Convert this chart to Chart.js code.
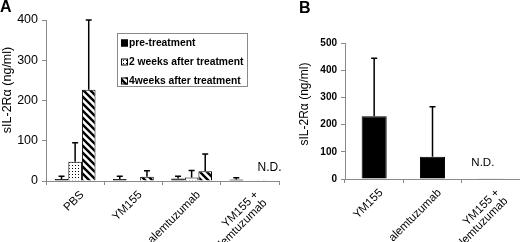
<!DOCTYPE html>
<html>
<head>
<meta charset="utf-8">
<script src="https://cdn.jsdelivr.net/npm/chart.js@4.4.1/dist/chart.umd.min.js"></script>
<style>
  body { margin: 0; background: #fff; }
  #wrap { position: relative; width: 520px; height: 242px; overflow: hidden; }
  canvas { position: absolute; top: 0; }
  .tag { position: absolute; font: bold 16px "Liberation Sans", Arial, sans-serif; }
</style>
</head>
<body>
<div id="wrap">
  <canvas id="chartA" width="290" height="242" style="left:0"></canvas>
  <canvas id="chartB" width="230" height="242" style="left:290px"></canvas>
  <div class="tag" style="left:0;top:-2px">A</div>
  <div class="tag" style="left:299px;top:-1px">B</div>
</div>
<script>
// panel A data
const groupsA = ['PBS', 'YM155', 'alemtuzumab', ['YM155 +', 'alemtuzumab']];
const seriesNames = ['pre-treatment', '2 weeks after treatment', '4weeks after treatment'];
const preA = [5, 5, 6, 4];
const week2A = [48, 1, 9, 0.5];
const week4A = [227, 10.5, 24, 0.4];
const preErrA = [7, 7, 6, 4];
const week2ErrA = [47, 0, 17, 0];
const week4ErrA = [173, 15, 43, 0];
const ticksA = [0, 100, 200, 300, 400];

// panel B data
const groupsB = ['YM155', 'alemtuzumab', ['YM155 +', 'alemtuzumab']];
const valuesB = [231, 82, 1];
const errB = [213, 184, 0];
const ticksB = [0, 100, 200, 300, 400, 500];

const yTitle = 'sIL-2Rα (ng/ml)';
const font = '"Liberation Sans", Arial, sans-serif';
const axisGray = '#8a8a8a';

function dotPattern() {
    const c = document.createElement('canvas');
    c.width = 3; c.height = 3;
    const g = c.getContext('2d');
    g.fillStyle = '#fff';
    g.fillRect(0, 0, 3, 3);
    g.fillStyle = '#000';
    g.fillRect(0, 0, 1, 1);
    return g.createPattern(c, 'repeat');
}

function hatchPattern() {
    const s = 7;
    const c = document.createElement('canvas');
    c.width = s; c.height = s;
    const g = c.getContext('2d');
    g.fillStyle = '#fff';
    g.fillRect(0, 0, s, s);
    g.strokeStyle = '#000';
    g.lineWidth = 2.4;
    g.beginPath();
    g.moveTo(-s, 0); g.lineTo(s, 2 * s);
    g.moveTo(0, 0); g.lineTo(s, s);
    g.moveTo(0, -s); g.lineTo(2 * s, s);
    g.stroke();
    return g.createPattern(c, 'repeat');
}

// draws upward error bars from each dataset's errors array
const errorBars = {
    id: 'errorBars',
    afterDatasetsDraw(chart) {
        const ctx = chart.ctx;
        const y = chart.scales.y;
        ctx.save();
        ctx.strokeStyle = '#000';
        ctx.lineWidth = 1.5;
        chart.data.datasets.forEach((ds, di) => {
            if (!ds.errors) return;
            chart.getDatasetMeta(di).data.forEach((bar, i) => {
                const e = ds.errors[i];
                if (!e) return;
                const top = y.getPixelForValue(ds.data[i] + e);
                ctx.beginPath();
                ctx.moveTo(bar.x, bar.y);
                ctx.lineTo(bar.x, top);
                ctx.moveTo(bar.x - 3, top);
                ctx.lineTo(bar.x + 3, top);
                ctx.stroke();
            });
        });
        ctx.restore();
    }
};

// "N.D." note over the last group, and the rotated y title
const notes = {
    id: 'notes',
    afterDatasetsDraw(chart, args, opts) {
        const meta = chart.getDatasetMeta(chart.data.datasets.length - 1);
        const bar = meta.data[meta.data.length - 1];
        const ctx = chart.ctx;
        ctx.save();
        ctx.font = opts.size + 'px ' + font;
        ctx.fillStyle = '#000';
        ctx.textAlign = 'center';
        ctx.textBaseline = 'middle';
        ctx.fillText('N.D.', bar.x + opts.dx, chart.scales.y.getPixelForValue(opts.value));
        ctx.translate(opts.titleX, opts.titleY);
        ctx.rotate(-Math.PI / 2);
        ctx.font = opts.titleSize + 'px ' + font;
        ctx.fillText(yTitle, 0, 0);
        ctx.restore();
    }
};

// boxed legend inside panel A
const boxLegend = {
    id: 'boxLegend',
    afterDraw(chart) {
        const ctx = chart.ctx;
        const x0 = 117, y0 = 33, w = 130, h = 53;
        ctx.save();
        ctx.fillStyle = '#fff';
        ctx.fillRect(x0, y0, w, h);
        ctx.strokeStyle = axisGray;
        ctx.lineWidth = 1;
        ctx.strokeRect(x0 + 0.5, y0 + 0.5, w, h);
        ctx.font = 'bold 10.3px ' + font;
        ctx.textBaseline = 'middle';
        chart.data.datasets.forEach((ds, i) => {
            const cy = y0 + 10 + i * 19;
            ctx.fillStyle = ds.backgroundColor;
            ctx.fillRect(x0 + 4, cy - 3.5, 7, 7);
            ctx.strokeStyle = '#000';
            ctx.strokeRect(x0 + 4.5, cy - 3, 6, 6);
            ctx.fillStyle = '#000';
            ctx.fillText(ds.label, x0 + 12, cy + 0.5);
        });
        ctx.restore();
    }
};

function scalesFor(tickValues, yWidth, xHeight, tickFont) {
    return {
        x: {
            afterFit: s => { s.height = xHeight; },
            border: { display: true, color: axisGray, width: 1 },
            grid: { display: true, drawOnChartArea: false, offset: true, tickLength: 4, color: axisGray },
            ticks: { color: '#000', minRotation: 45, maxRotation: 45, padding: 4, labelOffset: 7,
                     autoSkip: false, font: { family: font, size: 11.5, lineHeight: 1.0 } }
        },
        y: {
            min: tickValues[0],
            max: tickValues[tickValues.length - 1],
            afterFit: s => { s.width = yWidth; },
            afterBuildTicks: s => { s.ticks = tickValues.map(v => ({ value: v })); },
            border: { display: true, color: axisGray, width: 1 },
            grid: { display: true, drawOnChartArea: false, tickLength: 4, color: axisGray },
            ticks: { color: '#000', padding: 4, font: tickFont }
        }
    };
}

new Chart(document.getElementById('chartA'), {
    type: 'bar',
    data: {
        labels: groupsA,
        datasets: [
            { label: seriesNames[0], data: preA, errors: preErrA, backgroundColor: '#000' },
            { label: seriesNames[1], data: week2A, errors: week2ErrA, backgroundColor: dotPattern() },
            { label: seriesNames[2], data: week4A, errors: week4ErrA, backgroundColor: hatchPattern() }
        ].map(d => Object.assign(d, { borderColor: '#000', borderWidth: 1,
                                       categoryPercentage: 0.7, barPercentage: 1 }))
    },
    options: {
        responsive: false,
        animation: false,
        layout: { padding: { left: 0, right: 11, top: 20, bottom: 0 } },
        plugins: { legend: { display: false }, tooltip: { enabled: false },
                   notes: { dx: 6, value: 32, size: 12, titleX: 8, titleY: 90, titleSize: 12.5 } },
        scales: scalesFor(ticksA, 46, 61, { family: font, size: 12.5 })
    },
    plugins: [errorBars, notes, boxLegend]
});

new Chart(document.getElementById('chartB'), {
    type: 'bar',
    data: {
        labels: groupsB,
        datasets: [
            { label: 'sIL-2Rα', data: valuesB, errors: errB, backgroundColor: '#000', borderColor: '#000',
              borderWidth: 1, categoryPercentage: 0.86, barPercentage: 0.5 }
        ]
    },
    options: {
        responsive: false,
        animation: false,
        layout: { padding: { left: 0, right: 0, top: 43, bottom: 0 } },
        plugins: { legend: { display: false }, tooltip: { enabled: false },
                   notes: { dx: -8, value: 60, size: 11.5, titleX: 15, titleY: 104, titleSize: 12 } },
        scales: scalesFor(ticksB, 55, 63, { family: font, size: 10, weight: 'bold' })
    },
    plugins: [errorBars, notes]
});
</script>
</body>
</html>
